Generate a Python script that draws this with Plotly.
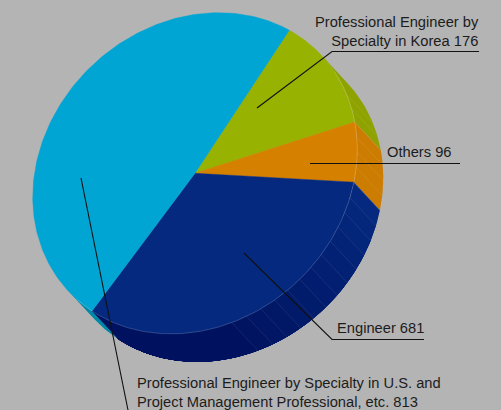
import numpy as np
import plotly.graph_objects as go

# Headcount per qualification group, clockwise from the top boundary
categories = [
    "Professional Engineer by Specialty in Korea",
    "Others",
    "Engineer",
    "Professional Engineer by Specialty in U.S. and Project Management Professional, etc.",
]
values = [176, 96, 681, 813]
top_colors = ["#97b200", "#d68000", "#04297f", "#00a5d3"]
wall_colors = ["#8ea300", "#cc7c00", "#04297f", "#0088a8"]
wall_dark = "#00125f"

# Perspective shift of each slice boundary, degrees (last one closes the circle)
boundary_skew = [-15.7, -7.2, -5.0, -26.1, -15.7]

WIDTH, HEIGHT = 501, 410
BG = "#b4b4b4"
CX, CY = 195.0, 173.25
RX, RY = 173.0, 149.0
AXIS_TILT = np.radians(43)
DEPTH = (26.0, 28.0)
WALL_START, WALL_END = 0.0, 180.0
FACET_STEP = 5.42
FACET_FIRST = 18.1
FACET_LAST = 117.0

e1 = np.array([np.cos(AXIS_TILT), -np.sin(AXIS_TILT)])
e2 = np.array([np.sin(AXIS_TILT), np.cos(AXIS_TILT)])


def rim(deg, offset=(0.0, 0.0)):
    """Points on the tilted disc edge; angles grow clockwise on screen."""
    u = np.radians(np.atleast_1d(deg))
    x = CX + RX * np.cos(u) * e1[0] + RY * np.sin(u) * e2[0] + offset[0]
    y = CY + RX * np.cos(u) * e1[1] + RY * np.sin(u) * e2[1] + offset[1]
    return x, y


def arc(a, b, step=1.0):
    return np.linspace(a, b, max(2, int(abs(b - a) / step) + 1))


def mix(c1, c2, t):
    a = [int(c1[i:i + 2], 16) for i in (1, 3, 5)]
    b = [int(c2[i:i + 2], 16) for i in (1, 3, 5)]
    return "#" + "".join(f"{round(p + (q - p) * t):02x}" for p, q in zip(a, b))


def wall_patch(a, b, color, name):
    d = arc(a, b)
    xt, yt = rim(d)
    xb, yb = rim(d[::-1], DEPTH)
    return go.Scatter(
        x=np.r_[xt, xb], y=np.r_[yt, yb], mode="lines", fill="toself",
        fillcolor=color, line=dict(width=0),
        hoverinfo="skip", showlegend=False, name=name,
    )


angles = np.r_[0, np.cumsum(values)] / np.sum(values) * 360.0
bounds = angles + np.array(boundary_skew)

fig = go.Figure()

# Extruded side wall; the Engineer wall darkens stepwise by painting over itself
for i, name in enumerate(categories):
    lo, hi = bounds[i], bounds[i + 1]
    for seg_lo, seg_hi in [(lo, hi), (lo + 360, hi + 360), (lo - 360, hi - 360)]:
        a, b = max(seg_lo, WALL_START), min(seg_hi, WALL_END)
        if a >= b:
            continue
        fig.add_trace(wall_patch(a, b, wall_colors[i], name))
        if i == 2:
            for p in np.arange(a + FACET_STEP, b, FACET_STEP):
                t = min(1.0, (p - a) / 65.0)
                fig.add_trace(wall_patch(p, b, mix(wall_colors[i], wall_dark, t), name))

for d in np.arange(FACET_FIRST, FACET_LAST, FACET_STEP):
    xt, yt = rim(d)
    xb, yb = rim(d, DEPTH)
    fig.add_trace(go.Scatter(
        x=[xt[0], xb[0]], y=[yt[0], yb[0]], mode="lines",
        line=dict(width=0.6, color="rgba(255,255,255,0.14)"),
        hoverinfo="skip", showlegend=False,
    ))

# Top face of the pie
for i, name in enumerate(categories):
    d = arc(bounds[i], bounds[i + 1])
    x, y = rim(d)
    fig.add_trace(go.Scatter(
        x=np.r_[CX, x, CX], y=np.r_[CY, y, CY], mode="lines", fill="toself",
        fillcolor=top_colors[i], line=dict(width=0.4, color=top_colors[i]),
        name=name, hoverinfo="name", showlegend=False,
    ))

# Thin highlight where the face meets the wall
xr, yr = rim(arc(WALL_START + 8, WALL_END - 4))
fig.add_trace(go.Scatter(
    x=xr, y=yr, mode="lines", line=dict(width=0.7, color="rgba(255,255,255,0.25)"),
    hoverinfo="skip", showlegend=False,
))

# Leader lines
leaders = [
    ([257, 332, 479], [108, 51.5, 51.5]),
    ([310, 460], [163.5, 163.5]),
    ([244, 332, 424], [253, 339.5, 339.5]),
    ([81, 128], [178, 410]),
]
for lx, ly in leaders:
    fig.add_trace(go.Scatter(
        x=lx, y=ly, mode="lines", line=dict(width=1.1, color="#111111"),
        hoverinfo="skip", showlegend=False,
    ))

labels = [
    (f"Professional Engineer by<br>Specialty in Korea {values[0]}", 479, 49, "right", "right"),
    (f"Others {values[1]}", 387, 160, "left", "left"),
    (f"Engineer {values[2]}", 337, 336, "left", "left"),
    (f"Professional Engineer by Specialty in U.S. and<br>Project Management Professional, etc. {values[3]}",
     137, 410, "left", "left"),
]
for text, x, y, xanchor, align in labels:
    fig.add_annotation(
        x=x, y=y, xref="x", yref="y", text=text, showarrow=False,
        xanchor=xanchor, yanchor="bottom", align=align, borderpad=0, borderwidth=0,
        font=dict(family="Liberation Sans", size=14.7, color="#1c1c1c"),
    )

fig.update_layout(
    width=WIDTH, height=HEIGHT, margin=dict(l=0, r=0, t=0, b=0),
    paper_bgcolor=BG, plot_bgcolor=BG, showlegend=False,
    xaxis=dict(range=[0, WIDTH], visible=False, fixedrange=True),
    yaxis=dict(range=[HEIGHT, 0], visible=False, fixedrange=True),
)
fig.write_html("out.html", config={"displayModeBar": False})
